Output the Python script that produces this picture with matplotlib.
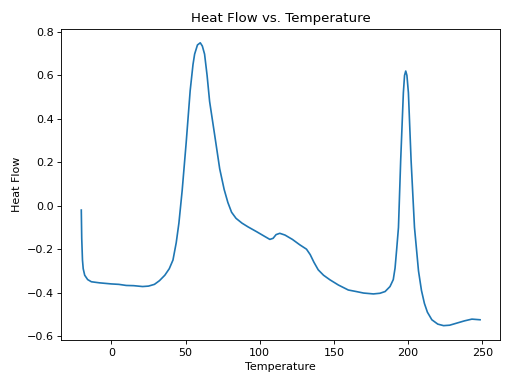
import matplotlib
matplotlib.use("Agg")
import matplotlib.pyplot as plt

temperature = [-20.3, -20.0, -19.5, -19.0, -18.0, -16.0, -13.5, -8, 0, 5, 10, 15, 21, 25, 29,
               32.4, 36, 39, 41.5, 43.7, 45.5, 47.7, 50.4, 53.1, 55.0, 56.1, 58.0,
               59.9, 61.3, 62.8, 64.5, 66.2, 69.6, 73.0, 76.0, 78.5, 81.0, 84.0, 88.0, 92, 98, 103,
               106.8, 109, 111, 113.5, 117, 122, 127, 131.5, 134, 136.5, 139.4, 143, 147.3,
               153, 159.7, 165, 170, 176.6, 181, 184.5, 187.8, 190, 191.2, 192.3, 193.5, 195.0,
               196.8, 197.6, 198.4, 199.2, 200.2, 202.0, 204.3, 207.0, 209.0, 211.0, 213.0,
               216, 220, 223.9, 228, 233, 238, 243, 248.5]
heat_flow = [-0.02, -0.15, -0.25, -0.29, -0.32, -0.34, -0.35, -0.355, -0.36, -0.362, -0.367,
             -0.368, -0.372, -0.370, -0.362, -0.345, -0.32, -0.29, -0.25, -0.17, -0.08, 0.07,
             0.29, 0.53, 0.65, 0.698, 0.74, 0.75, 0.735, 0.698, 0.60, 0.48, 0.326, 0.17, 0.075,
             0.015, -0.03, -0.058, -0.08, -0.097, -0.12, -0.14, -0.155, -0.15, -0.133, -0.127,
             -0.135, -0.155, -0.18, -0.20, -0.225, -0.26, -0.295, -0.32, -0.341, -0.365, -0.388,
             -0.395, -0.402, -0.406, -0.403, -0.395, -0.372, -0.34, -0.287, -0.20, -0.10,
             0.21, 0.52, 0.60, 0.62, 0.60, 0.52, 0.21, -0.10, -0.30, -0.39, -0.45, -0.49,
             -0.525, -0.545, -0.552, -0.55, -0.54, -0.53, -0.522, -0.525]

fig, ax = plt.subplots(figsize=(6.4, 4.8), dpi=80)
ax.plot(temperature, heat_flow, color="#1f77b4", linewidth=1.5)
ax.set_title("Heat Flow vs. Temperature")
ax.set_xlabel("Temperature")
ax.set_ylabel("Heat Flow")
fig.tight_layout()
fig.savefig("out.png", dpi=80)
